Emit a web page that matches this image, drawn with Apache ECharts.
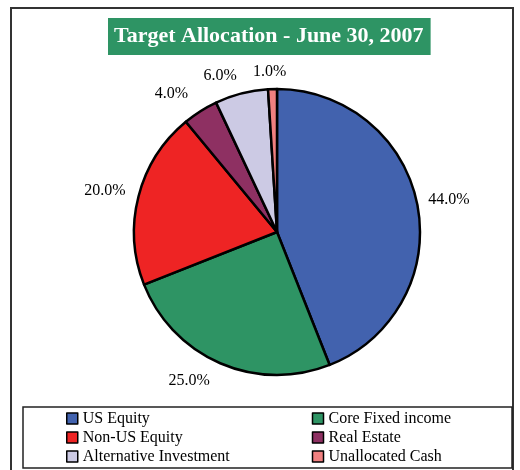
<!DOCTYPE html>
<html><head><meta charset="utf-8">
<script src="https://cdn.jsdelivr.net/npm/echarts@6/dist/echarts.min.js"></script>
<style>html,body{margin:0;padding:0;background:#fff}#c{width:520px;height:470px}</style>
</head><body><div id="c"></div>
<script>
const categories = ['US Equity','Core Fixed income','Non-US Equity','Real Estate','Alternative Investment','Unallocated Cash'];
const values = [44.0, 25.0, 20.0, 4.0, 6.0, 1.0];
const colors = ['#4262AE','#2E9464','#EE2424','#8E3062','#CCCAE4','#F08080'];
const legendOrder = ['US Equity','Core Fixed income','Non-US Equity','Real Estate','Alternative Investment','Unallocated Cash'];
const titleText = 'Target Allocation - June 30, 2007';
// small nudges of the data labels (style only)
const labelNudge = [[0,-4],[-3,12],[-2,-4],[-4,-12],[2,-12],[19,-11]];

const chart = echarts.init(document.getElementById('c'), null, {renderer:'canvas'});
const font = '"Liberation Serif","Times New Roman",serif';
chart.setOption({
  animation:false,
  backgroundColor:'#fff',
  title:{text:titleText,left:108,top:18,backgroundColor:'#2E9464',padding:[6,7,6,6],
    textStyle:{color:'#fff',fontFamily:font,fontSize:22,fontWeight:'bold',lineHeight:25}},
  graphic:[
    {type:'rect',shape:{x:11,y:8,width:502,height:480},style:{fill:'none',stroke:'#333',lineWidth:2},z:-1},
    {type:'rect',shape:{x:23,y:407,width:489,height:61},style:{fill:'none',stroke:'#222',lineWidth:1.5},z:-1}
  ],
  legend:{data:legendOrder,left:66,top:409,width:500,itemGap:0,itemWidth:11,itemHeight:11,icon:'rect',
    itemStyle:{borderColor:'#000',borderWidth:1.5},
    textStyle:{fontFamily:font,fontSize:16,color:'#000',width:229,lineHeight:19,padding:0},
    padding:0},
  series:[{type:'pie',center:[277,232],radius:143,startAngle:90,clockwise:true,avoidLabelOverlap:false,
    data:categories.map((c,i)=>({name:c,value:values[i],itemStyle:{color:colors[i]}})),
    itemStyle:{borderColor:'#000',borderWidth:2.5},
    label:{show:true,position:'outside',formatter:p=>p.value.toFixed(1)+'%',fontFamily:font,fontSize:16,color:'#000'},
    labelLine:{show:false,length:6,length2:0},
    labelLayout:p=>({dx:labelNudge[p.dataIndex][0],dy:labelNudge[p.dataIndex][1],hideOverlap:false}),
    emphasis:{disabled:true}
  }]
});
</script></body></html>
